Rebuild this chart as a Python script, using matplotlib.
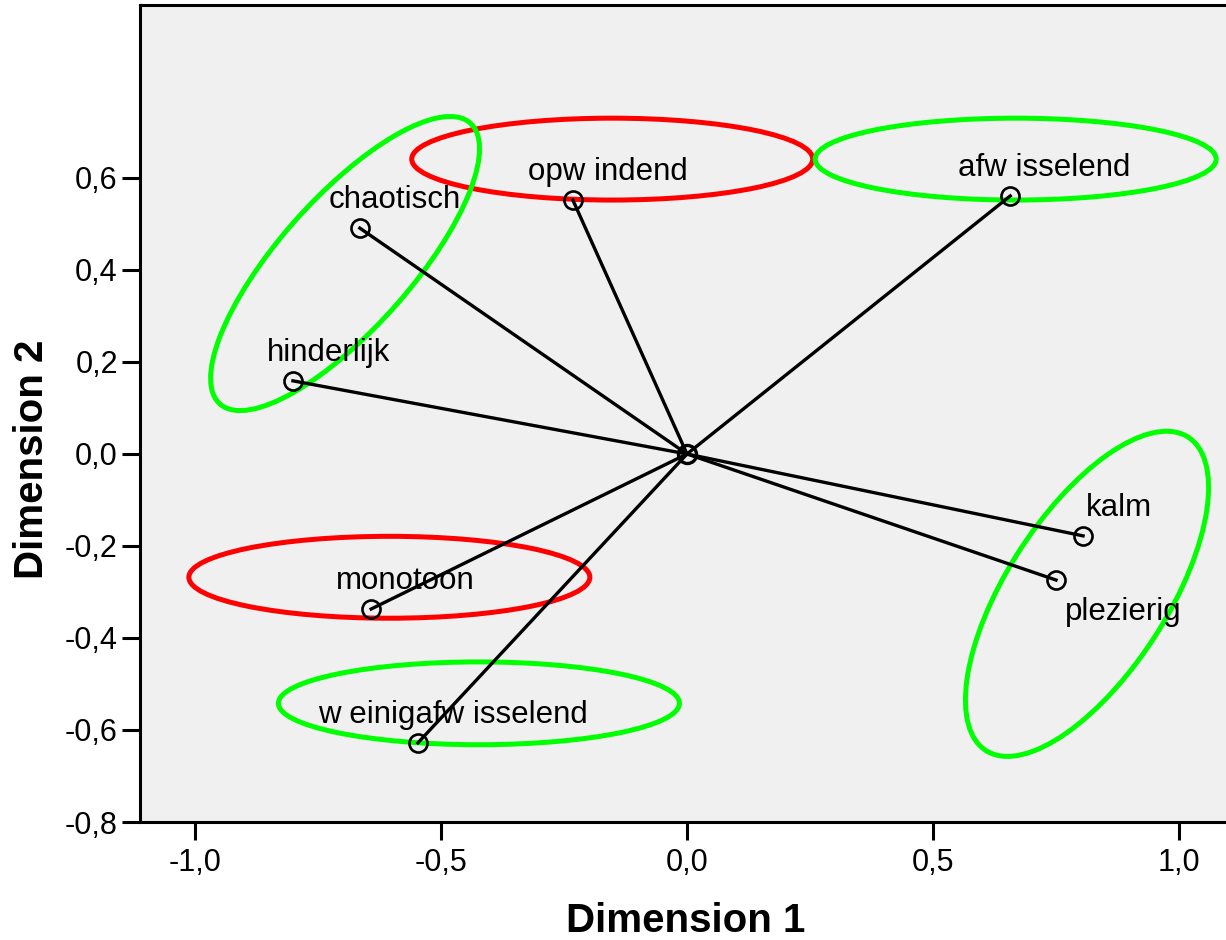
import matplotlib
matplotlib.use("Agg")
import matplotlib.pyplot as plt
from matplotlib.patches import Ellipse
from matplotlib.ticker import FuncFormatter

plt.rcParams['font.family'] = ['Liberation Sans', 'DejaVu Sans']

# category points (dimension 1, dimension 2)
labels = ['chaotisch', 'opw indend', 'afw isselend', 'hinderlijk',
          'kalm', 'plezierig', 'monotoon', 'w einigafw isselend']
dim1 = [-0.665, -0.232, 0.657, -0.801, 0.805, 0.750, -0.642, -0.547]
dim2 = [0.491, 0.552, 0.561, 0.159, -0.178, -0.274, -0.337, -0.628]

# label offsets in pixels (text centre relative to the point)
label_dx = [35, 35, 34, 36, 36, 67, 34, 35]
label_dy = [13, 13, 13, 13, 13, -17, 13, 13]
label_va = ['bottom'] * 5 + ['top'] + ['bottom'] * 2

# highlight ellipses: centre x, centre y, width, height, angle, colour
ell_cx = [-0.152, 0.668, -0.605, -0.423, -0.695, 0.813]
ell_cy = [0.641, 0.641, -0.268, -0.542, 0.414, -0.304]
ell_w = [0.815, 0.815, 0.815, 0.815, 0.795, 0.796]
ell_h = [0.178, 0.178, 0.178, 0.180, 0.275, 0.332]
ell_ang = [0, 0, 0, 0, 50.7, 59.6]
ell_col = ['#ff0000', '#00ff00', '#ff0000', '#00ff00', '#00ff00', '#00ff00']

xticks = [-1.0, -0.5, 0.0, 0.5, 1.0]
yticks = [-0.8, -0.6, -0.4, -0.2, 0.0, 0.2, 0.4, 0.6]

fig = plt.figure(figsize=(12.26, 9.4), dpi=100)
ax = fig.add_axes([140/1226, 1 - 822/940, 1 - 140/1226, (822 - 5)/940])
ax.set_facecolor('#f0f0f0')

for x, y in zip(dim1, dim2):
    ax.plot([0, x], [0, y], color='black', lw=2.4, zorder=3)
ax.plot(dim1, dim2, 'o', ms=13, mfc='none', mec='black', mew=1.9, zorder=4)
ax.plot([0], [0], 'o', ms=13, mfc='none', mec='black', mew=2.4, zorder=4)

for lab, x, y, dx, dy, va in zip(labels, dim1, dim2, label_dx, label_dy, label_va):
    ax.annotate(lab, (x, y), xytext=(dx, dy), textcoords='offset pixels',
                ha='center', va=va, fontsize=22.5, zorder=5)

for cx, cy, w, h, a, c in zip(ell_cx, ell_cy, ell_w, ell_h, ell_ang, ell_col):
    ax.add_patch(Ellipse((cx, cy), w, h, angle=a, fill=False,
                         edgecolor=c, lw=3.6, zorder=2))

ax.set_xlim(-1.1118, 1.0955)
ax.set_ylim(-0.8, 0.976)
ax.set_xticks(xticks)
ax.set_yticks(yticks)
fmt = FuncFormatter(lambda v, p: f'{v:.1f}'.replace('.', ','))
ax.xaxis.set_major_formatter(fmt)
ax.yaxis.set_major_formatter(fmt)
ax.tick_params(direction='out', length=13, width=2.2, labelsize=22, pad=3)
ax.tick_params(axis='x', pad=6)

for s in ['left', 'top', 'bottom']:
    ax.spines[s].set_linewidth(2.2)
ax.spines['right'].set_visible(False)

ax.set_xlabel('Dimension 1', fontsize=29, fontweight='bold')
ax.set_ylabel('Dimension 2', fontsize=29, fontweight='bold')
ax.xaxis.label.set_va('center')
ax.yaxis.label.set_va('center')
ax.xaxis.set_label_coords((686 - 140)/1086, (822 - 921)/817)
ax.yaxis.set_label_coords((32 - 140)/1086, (822 - 459)/817)

fig.savefig('out.png', dpi=100)
